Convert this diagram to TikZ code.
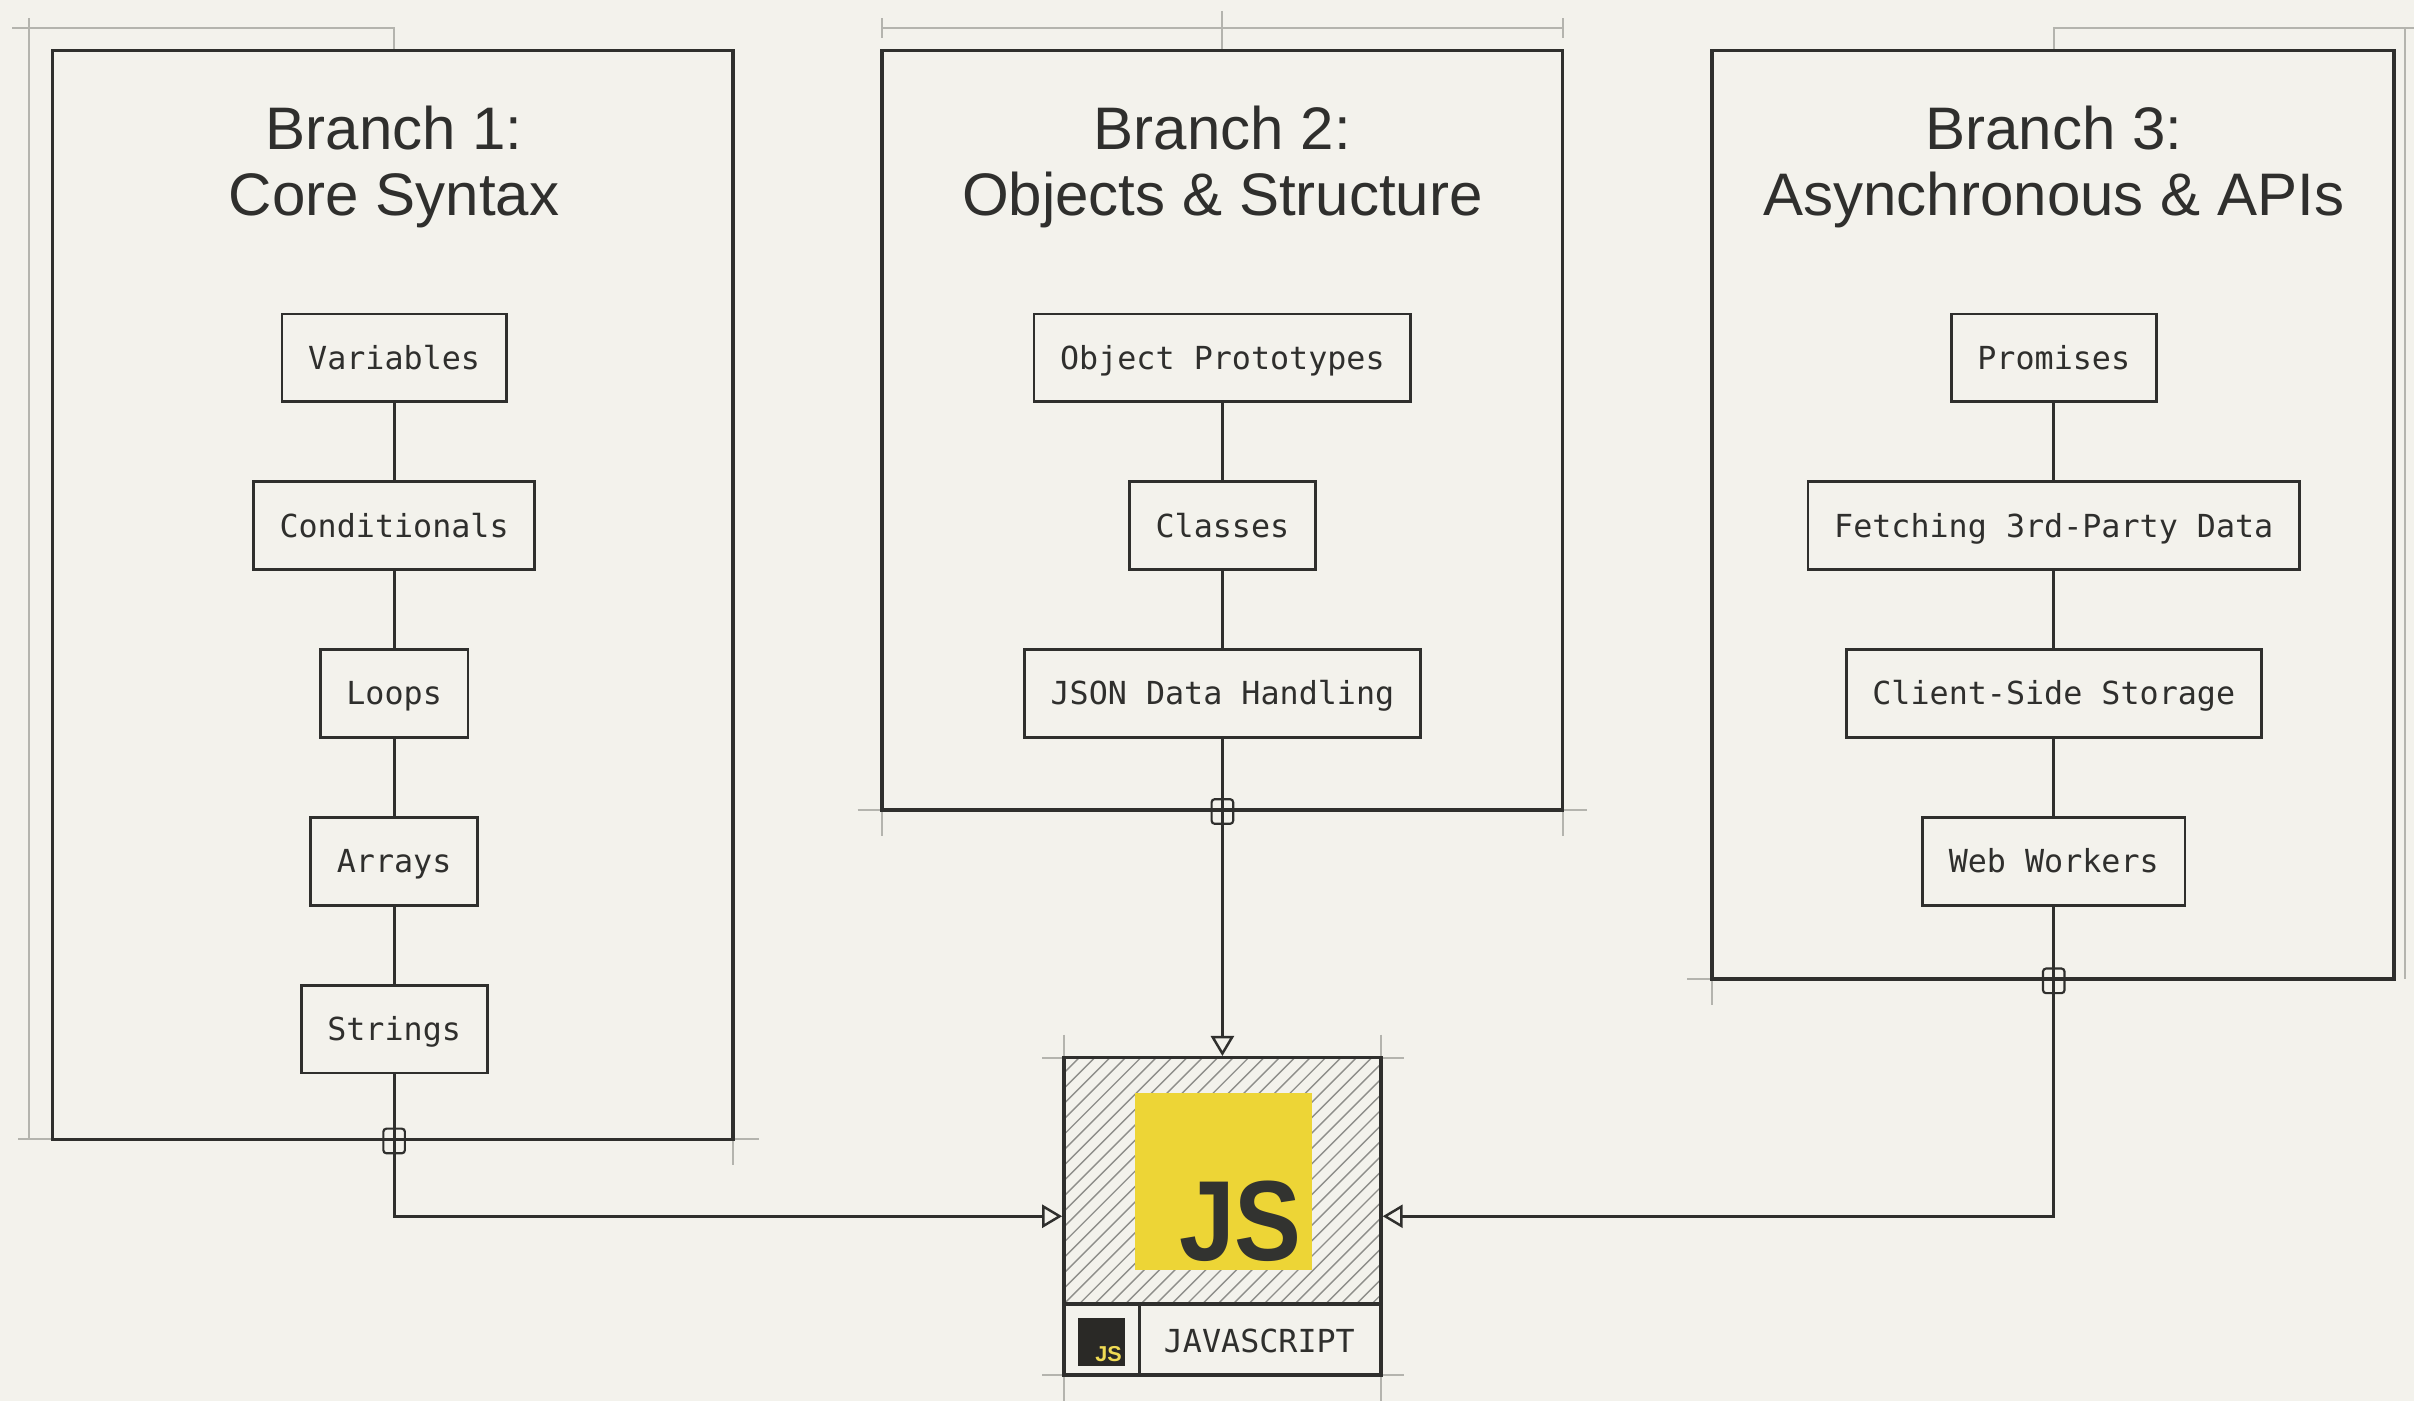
\documentclass[tikz,border=0pt]{standalone}
\usepackage{fontspec}
\setmainfont{Liberation Sans}
\newfontfamily\monof{DejaVu Sans Mono}
\usetikzlibrary{arrows.meta}
\definecolor{bg}{HTML}{F3F2EC}
\definecolor{ink}{HTML}{2F2F2D}
\definecolor{guide}{HTML}{B4B4AE}
\definecolor{hatchc}{HTML}{8E8E8A}
\definecolor{jsyellow}{HTML}{EDD536}
\definecolor{jsdark}{HTML}{323330}
\definecolor{iconbg}{HTML}{2A2926}
\begin{document}
\begin{tikzpicture}[x=0.5pt,y=-0.5pt,
  branchbox/.style={draw=ink,line width=1.1pt,inner sep=0pt},
  topic/.style={draw=ink,line width=0.9pt,fill=bg,text=ink,
    font=\monof\fontsize{10.3}{12}\selectfont,
    inner xsep=8.5pt,inner ysep=0pt,minimum height=28.5pt,
    text height=9.6pt,text depth=2.2pt},
  title/.style={font=\fontsize{19.5}{22}\selectfont,text=ink,inner sep=0pt,anchor=base},
  conn/.style={draw=ink,line width=1pt},
  guide/.style={draw=guide,line width=0.7pt},
  tip/.style={-{Triangle[open,length=6.5pt,width=7.5pt,line width=0.8pt]}},
  marker/.style={draw=ink,line width=0.7pt,rounded corners=1pt,inner sep=0pt,
    minimum width=7pt,minimum height=8pt}
]
\fill[bg] (0,0) rectangle (1568,910);
\useasboundingbox (0,0) rectangle (1568,910);

% construction guides
\draw[guide] (8,18) -- (256,18) -- (256,33);
\draw[guide] (19,12) -- (19,740);
\draw[guide] (12,740) -- (34,740);
\draw[guide] (476,740) -- (493,740);
\draw[guide] (476,740) -- (476,757);
\draw[guide] (573,18) -- (1015,18);
\draw[guide] (573,12) -- (573,25);
\draw[guide] (1015,12) -- (1015,25);
\draw[guide] (794,7) -- (794,33);
\draw[guide] (557,526) -- (1031,526);
\draw[guide] (573,526) -- (573,543);
\draw[guide] (1015,526) -- (1015,543);
\draw[guide] (1334,33) -- (1334,18) -- (1568,18);
\draw[guide] (1562,18) -- (1562,636);
\draw[guide] (1096,636) -- (1112,636);
\draw[guide] (1112,636) -- (1112,653);
\draw[guide] (677,687) -- (912,687);
\draw[guide] (677,893) -- (912,893);
\draw[guide] (691,672) -- (691,910);
\draw[guide] (897,672) -- (897,910);

% branch frames
\node[branchbox,minimum width=221pt,minimum height=353.5pt] (b1) at (255,386.5) {};
\node[branchbox,minimum width=221pt,minimum height=246.5pt] (b2) at (794,279.5) {};
\node[branchbox,minimum width=221.5pt,minimum height=301.5pt] (b3) at (1333.5,334.5) {};

% titles
\node[title] (t1a) at (256,97) {Branch 1:};
\node[title] (t1b) at (256,140) {Core Syntax};
\node[title] (t2a) at (794,97) {Branch 2:};
\node[title] (t2b) at (794,140) {Objects \& Structure};
\node[title] (t3a) at (1334,97) {Branch 3:};
\node[title] (t3b) at (1334,140) {Asynchronous \& APIs};

% JS box
\begin{scope}
  \clip (691,687) rectangle (897,847);
  \foreach \i in {0,...,40} {
    \draw[hatchc,line width=0.45pt] (521+10*\i,857) -- ++(180,-180);
  }
\end{scope}
\node[fill=jsyellow,minimum size=57.5pt,inner sep=0pt] (logo) at (794.5,767.5) {};
\node[anchor=base east,inner sep=0pt,text=jsdark,
  font=\bfseries\fontsize{37}{37}\selectfont] (jstext) at (846,819) {\scalebox{0.88}[1]{JS}};
\node[draw=ink,line width=1.1pt,minimum width=103pt,minimum height=103pt,inner sep=0pt] (js) at (794,790) {};
\draw[ink,line width=1pt] (691,847) -- (897,847);
\draw[ink,line width=1pt] (740,847) -- (740,893);
\node[fill=iconbg,minimum size=15.5pt,inner sep=0pt] (icon) at (715.5,871.5) {};
\node[anchor=south east,inner sep=1.2pt,text=jsyellow!85!white,
  font=\bfseries\fontsize{7}{7}\selectfont] (icontext) at (icon.south east) {JS};
\node[text=ink,font=\monof\fontsize{10.3}{12}\selectfont,inner sep=0pt,
  text height=9.6pt,text depth=2.2pt] (jslabel) at (818,871) {JAVASCRIPT};

% topics branch 1
\node[topic] (var) at (256,232.5) {Variables};
\node[topic] (cond) at (256,341.5) {Conditionals};
\node[topic] (loops) at (256,450.5) {Loops};
\node[topic] (arr) at (256,559.5) {Arrays};
\node[topic] (str) at (256,668.5) {Strings};
% topics branch 2
\node[topic] (proto) at (794,232.5) {Object Prototypes};
\node[topic] (cls) at (794,341.5) {Classes};
\node[topic] (json) at (794,450.5) {JSON Data Handling};
% topics branch 3
\node[topic] (prom) at (1334,232.5) {Promises};
\node[topic] (fetch) at (1334,341.5) {Fetching 3rd-Party Data};
\node[topic] (store) at (1334,450.5) {Client-Side Storage};
\node[topic] (work) at (1334,559.5) {Web Workers};

% connectors
\draw[conn] (var) -- (cond);
\draw[conn] (cond) -- (loops);
\draw[conn] (loops) -- (arr);
\draw[conn] (arr) -- (str);
\draw[conn] (proto) -- (cls);
\draw[conn] (cls) -- (json);
\draw[conn] (prom) -- (fetch);
\draw[conn] (fetch) -- (store);
\draw[conn] (store) -- (work);

\draw[conn,tip] (str.south) |- (js.west);
\draw[conn,tip] (json.south) -- (js.north);
\draw[conn,tip] (work.south) |- (js.east);

% junction markers
\node[marker] (m1) at (str.south |- b1.south) {};
\node[marker] (m2) at (json.south |- b2.south) {};
\node[marker] (m3) at (work.south |- b3.south) {};
\end{tikzpicture}
\end{document}
